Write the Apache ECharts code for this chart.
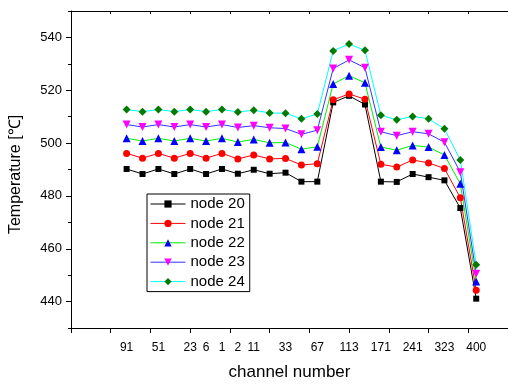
<!DOCTYPE html>
<html>
<head>
<meta charset="utf-8">
<script src="https://cdn.jsdelivr.net/npm/echarts@6/dist/echarts.min.js"></script>
<style>
html, body { margin: 0; padding: 0; background: #fff; }
#chart { width: 508px; height: 386px; }
</style>
</head>
<body>
<div id="chart"></div>
<script>
// channel labels, one per measuring point ('' = no label)
var channels = ['91', '', '51', '', '23', '6', '1', '2', '11', '', '33', '', '67', '', '113', '', '171', '', '241', '', '323', '', '400'];

var node20 = [490.2, 488.3, 490.2, 488.3, 490.2, 488.3, 490.2, 488.4, 489.9, 488.4, 488.8, 485.4, 485.4, 515.4, 517.9, 514.6, 485.4, 485.3, 488.3, 487.1, 485.9, 475.4, 441.1];
var node21 = [496.1, 494.3, 496.1, 494.3, 496.1, 494.3, 496.1, 494.0, 495.5, 494.0, 494.2, 491.7, 492.2, 516.4, 518.6, 516.6, 492.0, 490.9, 493.6, 492.5, 490.4, 479.3, 444.3];
var node22 = [501.8, 500.8, 501.8, 500.8, 501.8, 500.8, 501.8, 500.4, 501.4, 500.1, 500.2, 497.7, 498.6, 522.4, 525.5, 522.8, 498.5, 497.3, 499.1, 498.5, 495.5, 484.6, 447.6];
var node23 = [507.0, 506.1, 507.0, 506.1, 507.0, 506.1, 507.0, 505.9, 506.6, 505.8, 505.5, 503.3, 504.9, 528.2, 531.5, 528.5, 504.3, 502.8, 504.3, 503.5, 500.3, 489.0, 450.5];
var node24 = [512.7, 511.9, 512.7, 511.9, 512.7, 511.9, 512.7, 511.8, 512.4, 511.4, 511.3, 509.2, 511.0, 534.9, 537.5, 535.1, 510.5, 508.8, 510.1, 509.2, 505.4, 493.6, 453.9];

var yLabels = [440, 460, 480, 500, 520, 540];

var font = 'Liberation Sans, Arial, sans-serif';

// x positions of labelled points
var labelPos = [];
channels.forEach(function (c, i) { if (c !== '') labelPos.push(i + 1); });

function pts(arr) {
  return arr.map(function (v, i) { return [i + 1, v]; });
}

function mkSeries(name, arr, lineColor, symColor, symbol, size, rotate) {
  return {
    name: name,
    type: 'line',
    data: pts(arr),
    symbol: symbol,
    symbolSize: size,
    symbolRotate: rotate || 0,
    showAllSymbol: true,
    lineStyle: { color: lineColor, width: 1 },
    itemStyle: { color: symColor },
    emphasis: { disabled: true },
    z: 2
  };
}

var chart = echarts.init(document.getElementById('chart'), null, { renderer: 'canvas' });

var option = {
  animation: false,
  backgroundColor: '#fff',
  textStyle: { fontFamily: font },
  grid: { left: 71, top: 11, right: -3, bottom: 55 },
  legend: {
    left: 147,
    top: 194,
    orient: 'vertical',
    itemWidth: 35,
    itemHeight: 9,
    itemGap: 3.4,
    padding: [2, 5, 2, 3],
    borderColor: '#000',
    borderWidth: 1,
    lineStyle: { width: 1 },
    textStyle: { fontFamily: font, fontSize: 15, color: '#000', lineHeight: 16 },
    data: ['node 20', 'node 21', 'node 22', 'node 23', 'node 24']
  },
  xAxis: [{
    type: 'value',
    min: -2.5,
    max: 25,
    interval: 2.5,
    name: 'channel number',
    nameLocation: 'middle',
    nameGap: 36,
    nameTextStyle: { fontFamily: font, fontSize: 17, color: '#000' },
    axisLine: { onZero: false, lineStyle: { color: '#000', width: 1 } },
    axisTick: { inside: false, length: 5, lineStyle: { color: '#000' } },
    axisLabel: {
      customValues: labelPos,
      margin: 14,
      fontSize: 12,
      color: '#000',
      fontFamily: font,
      formatter: function (v) { return channels[Math.round(v) - 1]; }
    },
    splitLine: { show: false }
  }, {
    type: 'value',
    position: 'top',
    min: -2.5,
    max: 25,
    interval: 2.5,
    axisLine: { show: true, onZero: false, lineStyle: { color: '#000', width: 1 } },
    axisTick: { inside: true, length: 3, lineStyle: { color: '#000' } },
    axisLabel: { show: false },
    splitLine: { show: false }
  }],
  yAxis: [{
    type: 'value',
    min: 430,
    max: 550,
    interval: 10,
    name: 'Temperature [\u2103]',
    nameLocation: 'middle',
    nameGap: 47,
    nameTextStyle: { fontFamily: font, fontSize: 16, color: '#000', padding: [0, 10, 0, 0] },
    axisLine: { show: true, onZero: false, lineStyle: { color: '#000', width: 1 } },
    axisTick: { show: true, length: 3, lineStyle: { color: '#000' } },
    axisLabel: {
      customValues: yLabels,
      margin: 9,
      fontSize: 13,
      color: '#000',
      fontFamily: font
    },
    splitLine: { show: false }
  }, {
    type: 'value',
    position: 'left',
    min: 430,
    max: 550,
    interval: 10,
    axisLine: { show: false, onZero: false },
    axisTick: { show: true, customValues: yLabels, length: 5, lineStyle: { color: '#000' } },
    axisLabel: { show: false },
    splitLine: { show: false }
  }],
  series: [
    mkSeries('node 20', node20, '#000000', '#000000', 'rect', 6),
    mkSeries('node 21', node21, '#ff0000', '#ff0000', 'circle', 7),
    mkSeries('node 22', node22, '#00ee00', '#0000ff', 'triangle', 8),
    mkSeries('node 23', node23, '#3333ff', '#ff00ff', 'triangle', 8, 180),
    mkSeries('node 24', node24, '#00ffff', '#007a00', 'diamond', 8)
  ]
};

chart.setOption(option);
</script>
</body>
</html>
